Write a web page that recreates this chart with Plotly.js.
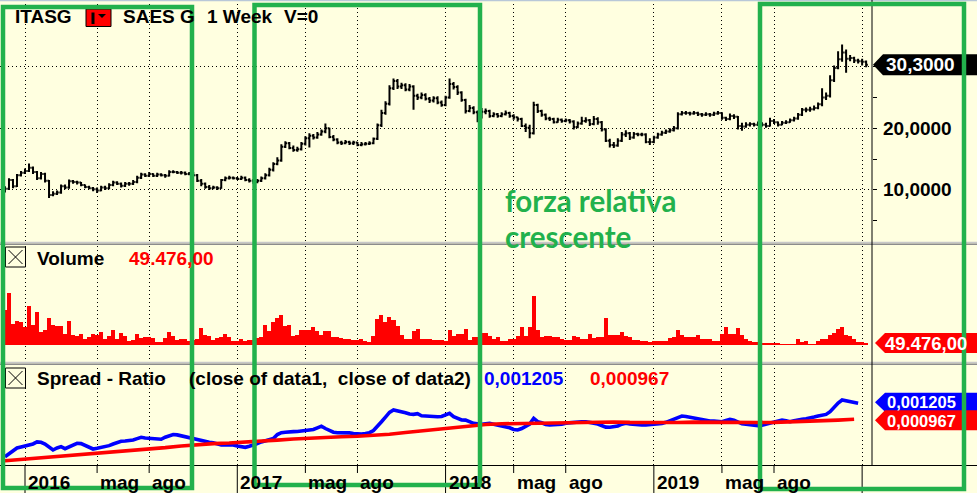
<!DOCTYPE html>
<html><head><meta charset="utf-8">
<script src="https://cdn.plot.ly/plotly-3.0.1.min.js"></script>
<style>html,body{margin:0;padding:0;background:#FFFFE0;}#chart{width:977px;height:493px;}</style>
</head><body><div id="chart"></div>
<script>
// ---- DATA (weekly bars, first bar week ending 2015-11-27) ----
const firstWeek = '2015-11-27';
const firstOpen = 10.0;
const closes = [
10.2,11.6,10.6,12.4,12.8,13.1,13.6,12.9,11.9,12.6,
11.5,9.2,9.4,9.6,10.6,10.4,11.4,11.3,11.2,10.8,
10.5,10.3,10.1,9.9,10.4,10.3,10.8,11.2,11.0,10.7,
11.0,11.0,11.3,12.0,12.5,12.3,12.6,12.3,12.5,12.4,
12.3,12.9,12.9,12.8,12.8,12.6,12.7,12.4,11.5,11.0,
10.5,10.3,10.4,10.3,11.6,11.9,12.0,11.9,11.8,12.0,
11.6,11.5,11.3,11.5,11.9,12.4,13.3,14.2,14.8,17.0,
17.6,16.8,16.5,16.6,17.5,18.4,18.8,18.5,19.0,19.5,
20.0,18.6,18.2,17.7,17.6,17.8,17.6,17.7,17.3,17.4,
17.5,17.6,18.3,20.5,22.5,24.0,26.5,27.7,26.8,27.0,
26.3,26.8,25.3,25.0,25.4,24.8,24.5,24.9,24.2,23.8,
25.0,27.2,26.7,25.8,24.6,22.8,23.3,22.6,21.8,22.7,
22.8,22.0,22.3,22.0,22.3,22.5,22.0,21.8,21.5,20.4,
20.1,19.2,23.8,22.8,22.2,21.6,21.5,21.0,21.4,21.2,
21.3,21.1,20.2,20.8,21.2,21.3,20.7,21.5,21.0,19.8,
18.0,17.3,17.2,18.0,19.0,19.2,18.5,19.1,19.0,19.0,
17.8,17.8,18.5,19.0,19.3,19.5,19.7,20.0,22.3,22.5,
22.5,22.4,22.5,22.3,22.2,22.3,22.2,22.4,22.5,21.7,
21.5,22.0,21.9,20.4,20.3,20.6,20.7,20.6,20.8,20.6,
20.4,21.2,21.0,20.6,20.9,21.0,21.3,21.6,22.2,23.0,
23.0,23.1,23.3,23.9,25.0,25.3,27.8,29.8,31.2,32.3,
31.3,31.4,31.0,30.9,30.8,30.3];
const highs = [
10.6,11.9,11.8,12.6,13.1,13.5,14.3,13.8,13.1,12.9,
12.8,11.6,9.8,9.9,10.9,10.9,11.7,11.6,11.5,11.3,
10.9,10.7,10.5,10.4,10.7,10.7,11.1,11.5,11.4,11.2,
11.3,11.3,11.6,12.3,12.8,12.7,12.9,12.7,12.8,12.7,
12.6,13.2,13.2,13.1,13.1,13.0,12.9,12.9,12.6,11.8,
11.2,10.8,10.7,10.6,11.8,12.2,12.3,12.2,12.1,12.3,
12.2,11.9,11.8,11.8,12.2,12.7,13.6,14.5,15.3,17.4,
17.9,17.8,17.2,17.0,17.8,18.7,19.2,19.1,19.4,19.8,
20.8,20.1,18.9,18.4,18.0,18.1,18.0,18.0,17.8,17.8,
17.8,17.9,18.5,20.8,23.0,24.4,27.0,28.1,28.0,27.4,
27.3,27.2,27.0,25.6,25.8,25.7,25.1,25.2,25.2,24.5,
25.3,28.1,27.5,27.0,26.0,24.8,23.8,23.6,22.9,23.3,
23.2,23.0,22.6,22.5,22.6,22.9,22.7,22.3,21.9,21.7,
20.8,20.6,24.3,24.0,23.0,22.4,21.9,21.7,21.7,21.6,
21.6,21.5,21.3,21.1,21.9,21.8,21.5,22.0,21.8,21.2,
20.0,18.3,17.8,18.4,19.4,19.7,19.4,19.4,19.3,19.3,
19.2,18.4,18.8,19.3,19.6,19.8,20.0,20.4,22.6,22.8,
22.8,22.7,22.8,22.7,22.5,22.6,22.5,22.7,22.8,22.6,
21.9,22.4,22.3,22.0,20.9,21.0,21.0,20.9,21.1,21.0,
20.9,21.7,21.5,21.1,21.2,21.3,21.6,21.9,22.5,23.3,
23.4,23.5,23.7,24.2,26.5,25.8,28.6,30.2,32.5,33.6,
32.8,31.9,31.6,31.3,31.3,31.0];
const lows = [
9.6,10.0,10.3,10.5,12.2,12.6,12.9,12.6,11.6,11.7,
11.2,8.7,9.0,9.2,9.4,10.1,10.2,11.0,10.9,10.6,
10.3,10.1,9.8,9.5,9.8,10.0,10.1,10.6,10.8,10.4,
10.5,10.7,10.8,11.1,11.8,12.1,12.1,12.1,12.1,12.2,
12.0,12.2,12.7,12.6,12.5,12.4,12.4,12.2,11.3,10.6,
10.2,10.0,10.1,10.0,10.2,11.4,11.7,11.7,11.6,11.6,
11.4,11.2,11.0,11.1,11.3,11.7,12.2,13.0,14.0,14.6,
16.8,16.6,16.2,16.2,16.4,17.2,16.9,18.2,18.3,18.8,
19.2,18.4,17.9,17.4,17.3,17.4,17.3,17.3,17.1,17.1,
17.2,17.3,17.4,18.1,20.2,22.2,23.7,26.2,26.4,26.4,
26.0,26.0,23.0,24.6,24.7,24.5,24.1,24.2,23.9,23.5,
23.6,24.8,26.3,25.4,24.3,22.4,22.6,22.3,21.0,21.6,
22.3,21.7,21.8,21.7,21.8,22.1,21.7,21.4,21.1,20.2,
19.4,18.4,19.0,22.5,21.9,21.3,21.2,20.8,20.9,20.9,
21.0,20.8,19.8,20.0,20.6,20.9,20.4,20.5,20.6,19.5,
17.8,16.9,16.8,17.0,17.8,18.6,18.1,18.3,18.7,18.7,
17.6,17.3,17.6,18.3,18.8,19.1,19.3,19.5,19.8,22.1,
22.2,22.1,22.2,22.0,21.9,22.0,21.9,22.0,22.2,21.4,
21.2,21.3,21.5,19.8,19.6,20.1,20.3,20.3,20.4,20.3,
20.1,20.3,20.7,20.3,20.5,20.7,20.9,21.1,21.4,22.0,
22.6,22.7,22.9,23.1,23.6,24.6,25.0,27.5,29.6,30.8,
29.0,30.9,30.6,30.5,30.2,29.9];
// weekly volume, thousands of shares
const volumeK = [
875,1300,525,600,575,450,975,500,825,325,
375,675,500,475,475,275,600,250,225,275,
150,200,275,250,325,150,225,375,150,300,
225,100,125,275,175,200,200,175,75,75,
175,325,225,125,150,150,100,125,150,425,
250,225,125,175,200,275,200,100,100,150,
100,125,125,175,200,500,350,575,675,750,
475,500,225,250,375,375,375,450,350,250,
350,350,200,200,175,150,150,125,125,150,
100,75,225,650,750,575,700,625,475,250,
150,150,350,400,150,150,150,125,125,125,
100,375,225,275,275,400,125,200,200,300,
300,225,150,200,100,100,150,150,225,450,
225,450,1225,375,200,225,225,200,200,150,
125,125,225,200,150,150,275,175,200,200,
675,250,250,250,325,225,200,125,125,100,
100,75,100,100,100,100,175,200,375,250,
200,200,200,250,150,150,150,100,100,275,
450,275,275,425,250,150,100,75,75,50,
50,50,50,50,30,30,30,30,150,75,
100,30,30,100,150,150,250,300,400,450,
250,225,150,75,75,49.476];
// spread ratio close(data1)/close(data2), in millionths
const ratioE6 = [
411,450,500,540,555,570,585,600,630,625,
600,560,510,540,560,530,555,590,610,605,
575,540,525,535,545,555,575,600,625,640,
645,650,660,680,700,690,685,680,681,670,
700,715,740,735,720,705,695,680,660,645,
635,625,619,600,585,585,585,585,570,555,
550,565,580,605,630,645,659,680,740,768,
775,783,783,785,790,800,808,815,840,865,
830,800,775,768,770,770,765,755,748,748,
755,768,800,857,930,1000,1070,1105,1095,1080,
1065,1046,1040,1050,1020,1016,1010,1006,1005,1010,
1040,1056,1006,975,957,955,930,907,900,893,
900,907,895,882,875,865,840,815,808,830,
860,897,982,931,915,890,882,882,882,895,
910,918,925,931,931,931,925,910,897,870,
850,848,855,867,895,907,897,890,882,882,
882,885,890,893,905,922,945,982,1005,1016,
1010,997,990,975,957,950,942,940,935,931,
950,967,955,922,900,893,885,878,872,880,
897,915,930,942,957,945,931,945,960,967,
975,982,1000,1015,1031,1040,1080,1154,1210,1254,
1244,1235,1215,1205];
// moving average of the ratio, read every 4th week, in millionths
const ratioMAE6 = [
351,370,388,406,424,442,461,480,500,520,
545,570,592,605,614,624,640,657,675,690,
700,708,715,725,745,770,795,825,850,872,
890,900,905,908,915,922,928,931,928,922,
918,916,920,925,927,925,922,920,922,927,
933,942,955,967];
const tickDates = ['2016-01-01','2016-05-06','2016-08-05','2017-01-06','2017-05-05','2017-08-04','2018-01-05','2018-05-04','2018-08-03','2019-01-04','2019-05-03','2019-08-02','2020-01-03'];
const tickLabels = ['2016','mag','ago','2017','mag','ago','2018','mag','ago','2019','mag','ago',''];
const lastPriceText = '30,3000';
const lastVolumeText = '49.476,00';
const lastRatioText = '0,001205';
const lastMAText = '0,000967';

// ---- derived ----
const dates = [];
{ const d0 = Date.parse(firstWeek + 'T00:00:00Z');
  for (let i = 0; i < closes.length; i++) dates.push(new Date(d0 + i * 7 * 86400000).toISOString().slice(0, 10)); }
const opens = closes.map((c, i) => i === 0 ? firstOpen : closes[i - 1]);
const ratio = ratioE6.map(v => v * 1e-6);
const ratioMA = ratioMAE6.map(v => v * 1e-6);
const maDates = ratioMAE6.map((v, k) => dates[Math.min(4 * k, ratio.length - 1)]);
const lastClose = closes[closes.length - 1];
const lastVol = volumeK[volumeK.length - 1];
const lastRatio = ratio[ratio.length - 1];
const lastMA = ratioMA[ratioMA.length - 1];

// ---- layout helpers (pixel -> paper) ----
const PW = 872, PH = 465;
const fx = x => x / PW;
const fy = y => 1 - y / PH;
const BLACK = '#000000', GREEN = '#22B14C';
const F = 'Arial, "Liberation Sans", sans-serif';
const FS = 19;

const traces = [
  {type:'ohlc', x:dates, open:opens, high:highs, low:lows, close:closes, xaxis:'x', yaxis:'y',
   increasing:{line:{color:BLACK, width:2}}, decreasing:{line:{color:BLACK, width:2}},
   tickwidth:0.42, hoverinfo:'skip'},
  {type:'bar', x:dates, y:volumeK, xaxis:'x', yaxis:'y2', marker:{color:'#FF0000', line:{width:0}}, hoverinfo:'skip'},
  {type:'scatter', mode:'lines', x:dates.slice(0, ratio.length), y:ratio, xaxis:'x', yaxis:'y3',
   line:{color:'#0000FF', width:3.6}, hoverinfo:'skip'},
  {type:'scatter', mode:'lines', x:maDates, y:ratioMA, xaxis:'x', yaxis:'y3',
   line:{color:'#FF0000', width:3.6}, hoverinfo:'skip'}
];

const shapes = [];
const ann = [];
// frame lines
shapes.push({type:'line', xref:'paper', yref:'paper', x0:0, x1:fx(977), y0:fy(0.5), y1:fy(0.5), line:{color:'#B8C8D8', width:1.5}});
[242.5, 362.5].forEach(y => {
  shapes.push({type:'line', xref:'paper', yref:'paper', x0:0, x1:fx(977), y0:fy(y), y1:fy(y), line:{color:'#C8C8C8', width:1.5}});
  shapes.push({type:'line', xref:'paper', yref:'paper', x0:0, x1:fx(977), y0:fy(y + 1.8), y1:fy(y + 1.8), line:{color:'#8C8C8C', width:1.5}});
});
shapes.push({type:'line', xref:'paper', yref:'paper', x0:1, x1:1, y0:fy(0), y1:fy(465), line:{color:BLACK, width:1}});
shapes.push({type:'line', xref:'paper', yref:'paper', x0:0, x1:fx(977), y0:fy(465.5), y1:fy(465.5), line:{color:BLACK, width:1}});
// bottom ticks + labels
tickDates.forEach((d, i) => {
  const isYear = d.slice(5, 7) === '01';
  shapes.push({type:'line', xref:'x', yref:'paper', x0:d, x1:d, y0:fy(465), y1:fy(isYear ? 493 : 473), line:{color:BLACK, width:1}});
  if (tickLabels[i]) ann.push({xref:'x', yref:'paper', x:d, xshift:1, y:fy(482.5), xanchor:'left', yanchor:'middle',
    text:'<b>' + tickLabels[i] + '</b>', showarrow:false, font:{family:F, size:FS, color:BLACK}});
});
// check boxes
[[247, 267], [368, 388]].forEach(([a, b]) => {
  shapes.push({type:'rect', xref:'paper', yref:'paper', x0:fx(5.5), x1:fx(25.5), y0:fy(a), y1:fy(b), line:{color:BLACK, width:1}, fillcolor:'rgba(0,0,0,0)'});
  shapes.push({type:'line', xref:'paper', yref:'paper', x0:fx(8.5), x1:fx(22.5), y0:fy(a + 3), y1:fy(b - 3), line:{color:BLACK, width:1}});
  shapes.push({type:'line', xref:'paper', yref:'paper', x0:fx(8.5), x1:fx(22.5), y0:fy(b - 3), y1:fy(a + 3), line:{color:BLACK, width:1}});
});
// red selector box in title
shapes.push({type:'rect', xref:'paper', yref:'paper', x0:fx(86), x1:fx(111), y0:fy(9), y1:fy(26.5), fillcolor:'#FF0000', line:{color:BLACK, width:1}});
shapes.push({type:'rect', xref:'paper', yref:'paper', x0:fx(91.5), x1:fx(94.5), y0:fy(12.5), y1:fy(24), fillcolor:BLACK, line:{width:0}});
shapes.push({type:'path', xref:'paper', yref:'paper', path:`M ${fx(98)} ${fy(14)} L ${fx(106)} ${fy(14)} L ${fx(102)} ${fy(18)} Z`, fillcolor:BLACK, line:{width:0}});
// value tags on right scale
function tag(yref, yval, color, h, tip, dy) {
  shapes.push({type:'path', xref:'paper', yref:yref, xsizemode:'pixel', ysizemode:'pixel', xanchor:1, yanchor:yval,
    path:`M ${tip} ${dy} L ${tip + 10} ${h + dy} L 120 ${h + dy} L 120 ${-h + dy} L ${tip + 10} ${-h + dy} Z`, fillcolor:color, line:{width:0}});
}
tag('y', lastClose, BLACK, 10.5, 1, 0);
tag('y2', lastVol, '#FF0000', 10, 3, 0);
tag('y3', lastRatio, '#0000FF', 9.5, 3, 1);
tag('y3', lastMA, '#FF0000', 10, 3, -1);
const tagFont = {family:F, size:FS, color:'#FFFFFF'};
const tagFontS = {family:F, size:16.5, color:'#FFFFFF'};
ann.push({xref:'paper', yref:'y', x:fx(884), y:lastClose, xanchor:'left', yanchor:'middle', text:'<b>' + lastPriceText + '</b>', showarrow:false, font:tagFont});
ann.push({xref:'paper', yref:'y2', x:fx(883), y:lastVol, xanchor:'left', yanchor:'middle', text:'<b>' + lastVolumeText + '</b>', showarrow:false, font:{family:F, size:18.5, color:'#FFFFFF'}});
ann.push({xref:'paper', yref:'y3', x:fx(885), y:lastRatio, yshift:1.5, xanchor:'left', yanchor:'middle', text:'<b>' + lastRatioText + '</b>', showarrow:false, font:tagFontS});
ann.push({xref:'paper', yref:'y3', x:fx(885), y:lastMA, yshift:-1.5, xanchor:'left', yanchor:'middle', text:'<b>' + lastMAText + '</b>', showarrow:false, font:tagFontS});
// price scale labels
[20, 10].forEach(v => ann.push({xref:'paper', yref:'y', x:fx(881), y:v, xanchor:'left', yanchor:'middle',
  text:'<b>' + v + ',0000</b>', showarrow:false, font:{family:F, size:FS, color:BLACK}}));
// header texts
function txt(x, y, s, color) {
  ann.push({xref:'paper', yref:'paper', x:fx(x), y:fy(y), xanchor:'left', yanchor:'middle', text:'<b>' + s + '</b>',
    showarrow:false, font:{family:F, size:FS, color:color || BLACK}});
}
txt(13, 16.5, 'ITASG');
txt(121, 16.5, 'SAES G');
txt(205, 16.5, '1 Week');
txt(282, 16.5, 'V=0');
txt(35, 258, 'Volume');
txt(127, 258, lastVolumeText, '#FF0000');
txt(35, 378, 'Spread - Ratio');
txt(187, 378, '(close of data1,&nbsp; close of data2)');
txt(482, 378, lastRatioText, '#0000FF');
txt(588, 378, lastMAText, '#FF0000');
// green annotation
const gFont = {family:'Lato, sans-serif', size:29.5, color:GREEN};
ann.push({xref:'paper', yref:'paper', x:fx(503), y:fy(200), xanchor:'left', yanchor:'middle', text:'<b>forza relativa</b>', showarrow:false, font:gFont});
ann.push({xref:'paper', yref:'paper', x:fx(503), y:fy(237), xanchor:'left', yanchor:'middle', text:'<b>crescente</b>', showarrow:false, font:gFont});
[[3, 192, 7, 488], [254.5, 480, 5, 485], [760, 964, 4, 489]].forEach(([x0, x1, y0, y1]) =>
  shapes.push({type:'rect', xref:'paper', yref:'paper', x0:fx(x0), x1:fx(x1), y0:fy(y0), y1:fy(y1), line:{color:GREEN, width:4.5}, fillcolor:'rgba(0,0,0,0)'}));

const dotGrid = '1px,3px';
const layout = {
  width:977, height:493, margin:{l:0, r:105, t:0, b:28, pad:0},
  paper_bgcolor:'#FFFFE0', plot_bgcolor:'#FFFFE0', showlegend:false, hovermode:false,
  xaxis:{type:'date', range:['2015-11-18 07:27', '2020-01-20 06:00'], anchor:'y3', tickmode:'array', tickvals:tickDates,
    showticklabels:false, ticks:'', showgrid:true, gridcolor:BLACK, gridwidth:1, griddash:dotGrid, zeroline:false, showline:false,
    rangeslider:{visible:false}, fixedrange:true},
  yaxis:{domain:[fy(243), 1], range:[1.40, 40.82], side:'right', anchor:'x', tickmode:'array', tickvals:[10, 20, 30], showticklabels:false,
    ticks:'outside', ticklen:4, tickcolor:BLACK, showgrid:true, gridcolor:BLACK, gridwidth:1, griddash:dotGrid, zeroline:false, showline:false,
    minor:{tickmode:'array', tickvals:[5, 15, 25], ticks:'outside', ticklen:4, tickcolor:BLACK, showgrid:false}, fixedrange:true},
  yaxis2:{domain:[fy(362), fy(246)], range:[-425, 2475], anchor:'x', side:'right', showticklabels:false, ticks:'', showgrid:false, zeroline:false, showline:false, fixedrange:true},
  yaxis3:{domain:[0, fy(364)], range:[0.000287, 0.001790], anchor:'x', side:'right', showticklabels:false, ticks:'', showgrid:false, zeroline:false, showline:false, fixedrange:true},
  bargap:0,
  shapes:shapes, annotations:ann
};
Plotly.newPlot('chart', traces, layout, {staticPlot:true, displayModeBar:false});
</script></body></html>
